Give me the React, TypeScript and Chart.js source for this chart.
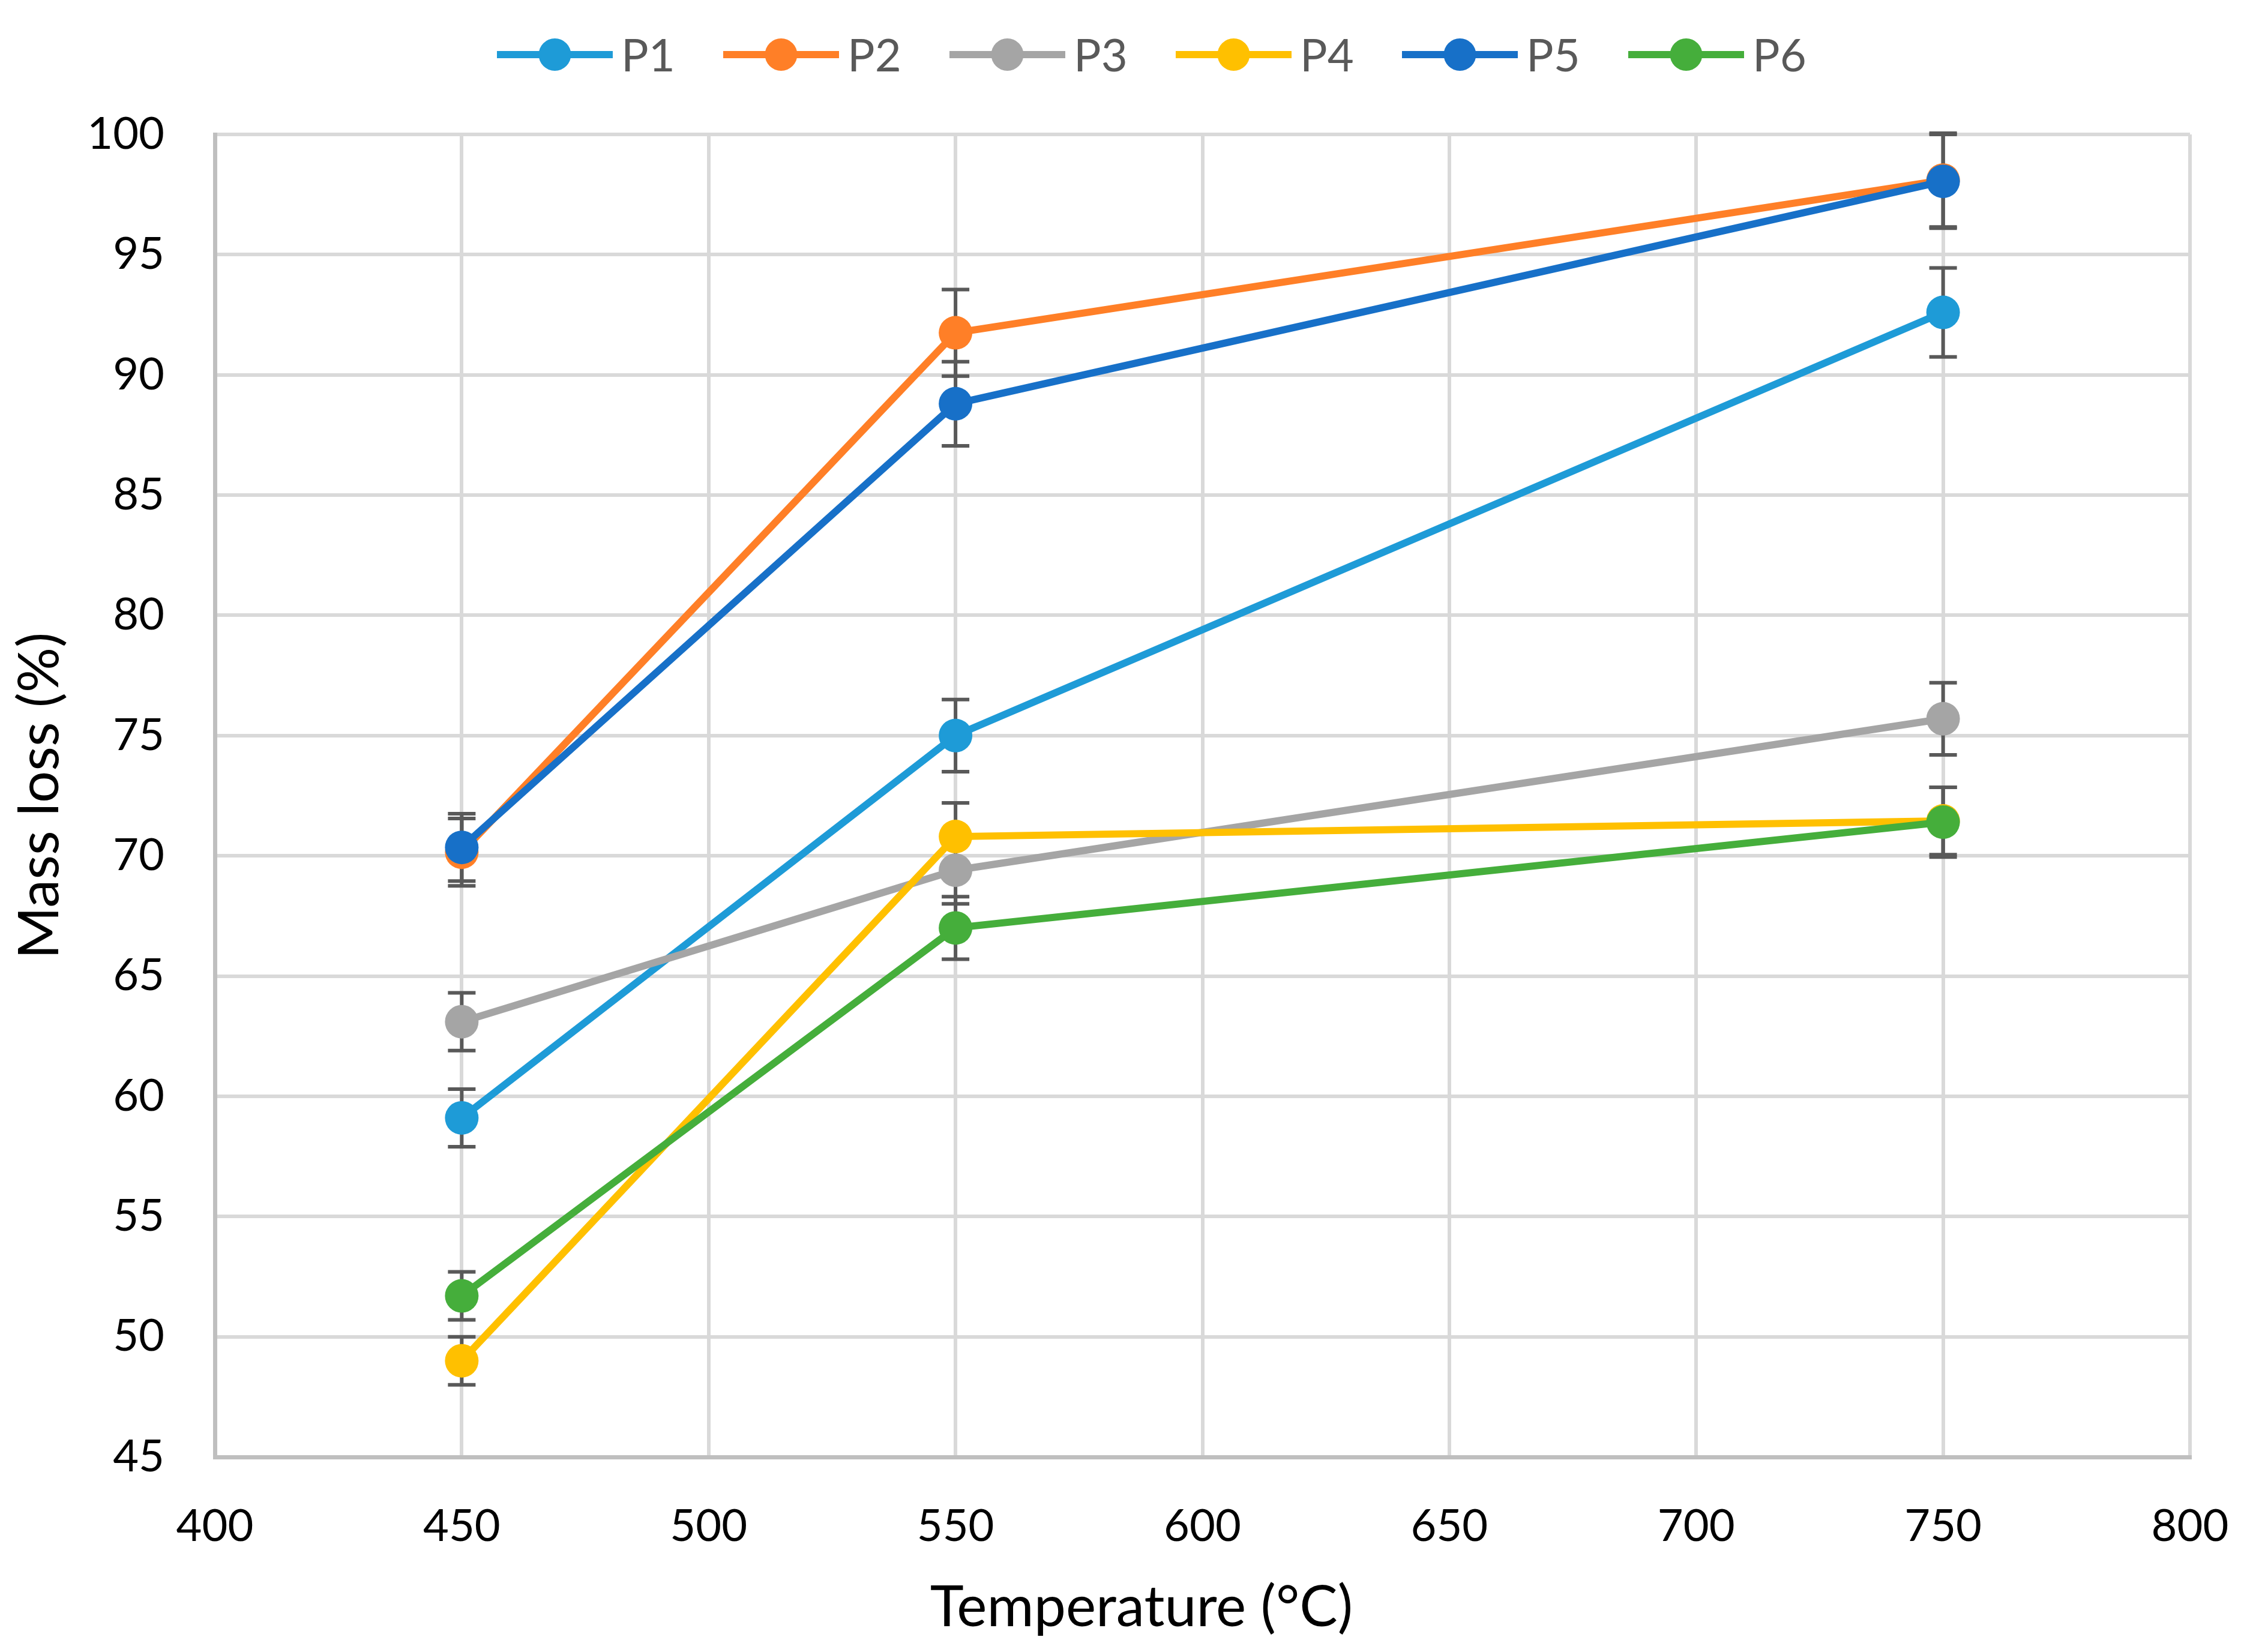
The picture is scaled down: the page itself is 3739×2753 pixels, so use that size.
import React, { useEffect, useRef } from "react";
import { Chart, registerables } from "chart.js";

Chart.register(...registerables);

// ---------- data ----------
const temperatures = [450, 550, 750];
const seriesNames = ["P1", "P2", "P3", "P4", "P5", "P6"];
const p1 = [59.1, 75.0, 92.6];
const p2 = [70.15, 91.75, 98.1];
const p3 = [63.1, 69.4, 75.7];
const p4 = [49.0, 70.8, 71.45];
const p5 = [70.35, 88.8, 98.05];
const p6 = [51.7, 67.0, 71.4];
const p1Err = [1.2, 1.5, 1.85];
const p2Err = [1.4, 1.8, 1.95];
const p3Err = [1.2, 1.4, 1.5];
const p4Err = [1.0, 1.4, 1.4];
const p5Err = [1.4, 1.75, 1.95];
const p6Err = [1.0, 1.3, 1.45];
const seriesValues = [p1, p2, p3, p4, p5, p6];
const seriesErrors = [p1Err, p2Err, p3Err, p4Err, p5Err, p6Err];
const seriesColors = ["#1E9BD7", "#FF7F27", "#A5A5A5", "#FFC000", "#1770C8", "#45AE3B"];
const xMin = 400, xMax = 800, xStep = 50;
const yMin = 45, yMax = 100, yStep = 5;
const xTitle = "Temperature (°C)";
const yTitle = "Mass loss (%)";

const FONT = "Lato, 'Open Sans', sans-serif";

const errorBarPlugin = {
  id: "errorBars",
  beforeDatasetsDraw(chart: any) {
    const { ctx, scales } = chart;
    const x = scales.x, y = scales.y;
    ctx.save();
    ctx.strokeStyle = "#595959";
    ctx.lineWidth = 6;
    chart.data.datasets.forEach((ds: any) => {
      ds.data.forEach((pt: any, i: number) => {
        const e = ds.errors[i];
        const px = x.getPixelForValue(pt.x);
        const top = y.getPixelForValue(pt.y + e);
        const bot = y.getPixelForValue(pt.y - e);
        ctx.beginPath();
        ctx.moveTo(px, top);
        ctx.lineTo(px, bot);
        ctx.moveTo(px - 23, top);
        ctx.lineTo(px + 23, top);
        ctx.moveTo(px - 23, bot);
        ctx.lineTo(px + 23, bot);
        ctx.stroke();
      });
    });
    ctx.restore();
  },
};

const legendPlugin = {
  id: "lineLegend",
  afterDraw(chart: any) {
    const { ctx } = chart;
    const startX = 828, step = 377, lineLen = 193, cy = 91;
    ctx.save();
    ctx.font = `76px ${FONT}`;
    ctx.textBaseline = "middle";
    ctx.textAlign = "left";
    chart.data.datasets.forEach((ds: any, i: number) => {
      const x0 = startX + i * step;
      ctx.strokeStyle = ds.borderColor;
      ctx.lineWidth = 12;
      ctx.beginPath();
      ctx.moveTo(x0, cy);
      ctx.lineTo(x0 + lineLen, cy);
      ctx.stroke();
      ctx.fillStyle = ds.backgroundColor;
      ctx.beginPath();
      ctx.arc(x0 + lineLen / 2, cy, 27, 0, Math.PI * 2);
      ctx.fill();
      ctx.fillStyle = "#595959";
      ctx.fillText(ds.label, x0 + lineLen + 14, cy + 3);
    });
    ctx.restore();
  },
};

// x-axis title, drawn slightly left of the plot centre as in the original
const xTitlePlugin = {
  id: "xAxisTitle",
  afterDraw(chart: any) {
    const { ctx } = chart;
    ctx.save();
    ctx.font = `95px ${FONT}`;
    ctx.fillStyle = "#000000";
    ctx.textAlign = "center";
    ctx.textBaseline = "alphabetic";
    ctx.fillText(xTitle, 1902, 2710);
    ctx.restore();
  },
};

export default function App() {
  const ref = useRef<HTMLCanvasElement | null>(null);

  useEffect(() => {
    if (!ref.current) return;
    const datasets = seriesNames.map((name, i) => ({
      label: name,
      data: temperatures.map((t, j) => ({ x: t, y: seriesValues[i][j] })),
      errors: seriesErrors[i],
      borderColor: seriesColors[i],
      backgroundColor: seriesColors[i],
      pointBackgroundColor: seriesColors[i],
      pointBorderColor: seriesColors[i],
      pointBorderWidth: 0,
      pointRadius: 28,
      borderWidth: 12,
      tension: 0,
      order: seriesNames.length - i,
    }));

    const chart = new Chart(ref.current, {
      type: "line",
      data: { datasets } as any,
      options: {
        animation: false,
        responsive: true,
        maintainAspectRatio: false,
        devicePixelRatio: 1,
        layout: { padding: { top: 224, right: 90, bottom: 0, left: 0 } },
        plugins: {
          legend: { display: false },
          tooltip: { enabled: false },
        },
        scales: {
          x: {
            type: "linear",
            min: xMin,
            max: xMax,
            afterFit(scale: any) {
              scale.height = 325;
              scale.paddingRight = 0;
              scale.paddingLeft = 0;
            },
            ticks: {
              stepSize: xStep,
              color: "#000000",
              padding: 72,
              font: { family: FONT, size: 74 },
              maxRotation: 0,
            },
            grid: { color: "#D9D9D9", lineWidth: 6, drawTicks: false },
            border: { color: "#BFBFBF", width: 7 },
            title: { display: false, text: xTitle },
          },
          y: {
            type: "linear",
            min: yMin,
            max: yMax,
            afterFit(scale: any) {
              scale.width = 358;
            },
            ticks: {
              stepSize: yStep,
              color: "#000000",
              padding: 84,
              font: { family: FONT, size: 74 },
            },
            grid: { color: "#D9D9D9", lineWidth: 6, drawTicks: false },
            border: { color: "#BFBFBF", width: 7 },
            title: {
              display: true,
              text: yTitle,
              color: "#000000",
              font: { family: FONT, size: 94 },
              padding: { top: 10, bottom: 0 },
            },
          },
        },
      },
      plugins: [errorBarPlugin, legendPlugin, xTitlePlugin],
    });
    return () => chart.destroy();
  }, []);

  return (
    <div style={{ position: "fixed", left: 0, top: 0, width: "3739px", height: "2753px", background: "#fff" }}>
      <canvas ref={ref} />
    </div>
  );
}
